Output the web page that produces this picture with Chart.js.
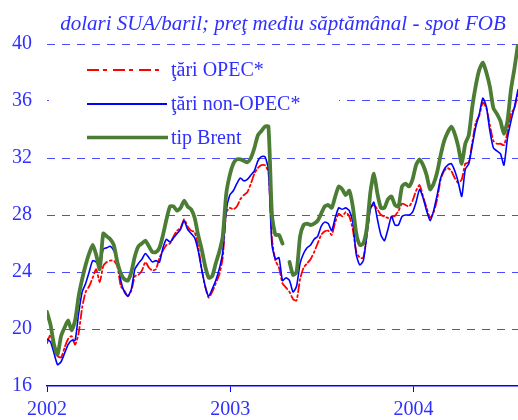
<!DOCTYPE html>
<html>
<head>
<meta charset="utf-8">
<script src="https://cdn.jsdelivr.net/npm/chart.js@4.4.1/dist/chart.umd.min.js"></script>
<style>
html,body{margin:0;padding:0;background:#fff;}
#wrap{width:518px;height:420px;position:relative;}
</style>
</head>
<body>
<div id="wrap"><canvas id="c" width="518" height="420"></canvas></div>
<script>
// Week index (0 = first week of Jan 2002), weekly observations
const weeks = Array.from({length: 135}, (_, i) => i);
const yearTickPos = [0, 52.14, 104.29];
const yearLabels = ['2002', '2003', '2004'];
const yTicks = [16, 20, 24, 28, 32, 36, 40];
const titleText = 'dolari SUA/baril; preţ mediu săptămânal - spot FOB';
const seriesNames = ['ţări OPEC*', 'ţări non-OPEC*', 'tip Brent'];

const opec = [
19.0,19.6,18.6,18.1,18.0,18.7,19.3,19.5,18.9,19.7,
21.5,22.6,23.0,23.6,24.2,23.3,24.4,24.7,24.8,24.8,
24.4,23.0,22.7,22.3,22.7,23.7,23.8,24.1,24.7,24.3,
24.1,24.2,25.0,25.5,25.9,26.0,26.5,26.9,27.1,27.7,
27.2,26.9,26.8,25.8,24.2,23.0,22.2,22.6,23.2,23.8,
25.0,28.2,28.5,28.4,28.6,29.1,29.4,29.6,30.2,30.9,
31.3,31.5,31.5,31.0,26.3,24.8,24.3,23.2,22.9,22.6,
22.1,22.0,23.5,24.3,24.6,24.9,25.4,26.0,26.6,26.85,
26.9,26.6,27.5,28.1,27.9,28.2,27.9,27.0,25.4,25.0,
25.0,26.6,28.5,28.7,28.4,28.0,27.9,27.8,27.85,27.95,
28.3,28.8,28.7,28.6,29.0,29.7,30.1,29.3,28.5,27.8,
28.2,29.1,30.5,31.1,31.3,31.1,30.6,30.25,30.5,31.6,
31.7,33.1,34.5,35.0,35.9,35.5,34.3,33.2,33.0,33.0,
32.9,33.8,35.1,35.5,36.6
];
const nonOpec = [
19.3,19.1,18.3,17.5,17.7,18.3,18.9,19.2,19.2,21.1,
22.6,23.2,24.0,24.8,24.7,24.4,25.6,25.7,25.8,25.5,
24.9,23.4,22.6,22.3,22.8,24.2,24.6,24.9,25.3,25.0,
24.7,24.8,24.7,25.7,26.3,26.1,26.4,26.7,27.0,27.6,
27.0,26.7,26.4,25.5,24.2,23.0,22.3,22.8,23.4,24.2,
25.4,28.3,29.4,29.7,30.2,30.6,30.4,30.5,30.8,31.1,
31.8,32.1,32.1,31.2,25.9,24.9,25.0,23.4,23.6,23.4,
22.6,23.0,24.6,25.3,25.7,25.9,26.3,26.5,27.2,27.5,
27.4,26.9,27.8,28.5,28.4,28.5,28.3,27.5,25.2,24.5,
24.8,26.6,28.4,28.9,27.7,26.6,26.2,27.0,27.9,27.3,
27.3,27.9,28.0,28.0,28.2,28.9,29.8,29.2,28.3,27.6,
28.3,29.4,30.6,31.2,31.5,31.6,31.1,30.3,29.3,31.2,
31.6,32.9,34.2,35.1,36.2,35.6,33.9,32.7,32.5,32.3,
31.5,33.4,34.6,35.6,36.8
];
const brent = [
21.2,20.3,18.9,18.2,19.5,20.1,20.6,19.9,20.6,22.3,
23.5,24.5,25.3,25.9,25.2,24.2,26.7,26.5,26.3,25.9,
24.7,23.9,23.5,23.4,24.0,25.1,25.8,26.0,26.2,25.8,
25.4,25.4,25.7,26.6,27.7,28.6,28.6,28.3,28.5,29.0,
28.6,28.4,27.8,26.6,25.6,24.4,23.6,23.7,24.6,25.4,
26.5,29.5,30.8,31.6,31.9,31.9,31.8,31.7,32.0,32.7,
33.6,33.9,34.2,34.2,28.0,26.6,26.6,26.0,null,24.7,
23.8,24.0,26.5,27.3,27.4,27.3,27.4,27.6,28.1,28.6,
28.7,28.5,29.3,30.0,29.8,29.4,29.7,28.6,26.7,25.9,
26.0,27.1,29.6,30.9,29.5,28.5,28.5,29.1,29.3,28.7,
28.6,30.0,30.2,30.0,30.5,31.5,31.9,31.5,30.8,29.8,
30.2,31.0,32.2,33.2,33.8,34.2,33.7,32.8,31.6,33.0,
33.6,35.6,37.1,38.2,38.7,38.0,37.0,35.5,35.1,34.6,
33.7,34.6,36.8,38.3,40.0
];

const BLUE_TXT = '#2f2fff';
const RED = '#ff0000';
const BLUE = '#0000ff';
const GREEN = '#4b7d34';
const SERIF = "'Liberation Serif','Times New Roman',serif";
const DASHDOT = [12, 4, 4, 6];

const legendBox = {
  id: 'legendBox',
  beforeDatasetsDraw(chart) {
    const ctx = chart.ctx;
    ctx.save();
    ctx.fillStyle = '#ffffff';
    ctx.fillRect(49, 49, 290, 103);
    const rows = [
      {y: 70, color: RED, w: 2, dash: DASHDOT, x2: 162},
      {y: 104, color: BLUE, w: 1.8, dash: [], x2: 167},
      {y: 137.5, color: GREEN, w: 3.5, dash: [], x2: 168}
    ];
    rows.forEach((r, i) => {
      ctx.beginPath();
      ctx.setLineDash(r.dash);
      ctx.strokeStyle = r.color;
      ctx.lineWidth = r.w;
      ctx.moveTo(87, r.y);
      ctx.lineTo(r.x2, r.y);
      ctx.stroke();
      ctx.setLineDash([]);
      ctx.fillStyle = BLUE_TXT;
      ctx.font = '20px ' + SERIF;
      ctx.textBaseline = 'middle';
      ctx.textAlign = 'left';
      ctx.fillText(seriesNames[i], 171, r.y + 1);
    });
    ctx.restore();
  },
  afterDraw(chart) {
    const ctx = chart.ctx;
    ctx.save();
    ctx.fillStyle = BLUE_TXT;
    ctx.font = 'italic 21px ' + SERIF;
    ctx.textAlign = 'center';
    ctx.textBaseline = 'middle';
    ctx.fillText(titleText, 283, 24);
    ctx.restore();
  }
};

new Chart(document.getElementById('c'), {
  type: 'line',
  data: {
    labels: weeks,
    datasets: [
      {label: seriesNames[0], data: opec, borderColor: RED, borderWidth: 1.8, borderDash: [8, 3, 2, 3], order: 2},
      {label: seriesNames[1], data: nonOpec, borderColor: BLUE, borderWidth: 1.6, order: 1},
      {label: seriesNames[2], data: brent, borderColor: GREEN, borderWidth: 3.8, order: 0, spanGaps: false}
    ]
  },
  options: {
    responsive: false,
    animation: false,
    devicePixelRatio: 1,
    layout: {padding: {top: 44, right: 0, bottom: 0, left: 0}},
    elements: {point: {radius: 0}, line: {tension: 0.2, fill: false, borderCapStyle: 'round', borderJoinStyle: 'round'}},
    plugins: {legend: {display: false}, title: {display: false}, tooltip: {enabled: false}},
    scales: {
      x: {
        type: 'linear',
        min: 0,
        max: 134,
        afterBuildTicks(scale) { scale.ticks = yearTickPos.map(v => ({value: v})); },
        afterFit(scale) { scale.height = 34; },
        ticks: {
          callback: (v, i) => yearLabels[i],
          color: BLUE_TXT,
          font: {family: SERIF, size: 20},
          padding: 6,
          maxRotation: 0,
          autoSkip: false
        },
        grid: {drawOnChartArea: false, drawTicks: true, tickLength: 6, color: BLUE, lineWidth: 1},
        border: {display: true, color: BLUE, width: 1.5}
      },
      y: {
        min: 16,
        max: 40,
        afterBuildTicks(scale) { scale.ticks = yTicks.map(v => ({value: v})); },
        afterFit(scale) { scale.width = 47; },
        ticks: {
          color: BLUE_TXT,
          font: {family: SERIF, size: 20},
          padding: 15
        },
        grid: {drawTicks: false, color: (c) => c.tick.value === 16 ? 'rgba(0,0,0,0)' : '#4a4aff', lineWidth: 1},
        border: {display: false, dash: [8, 7]}
      }
    }
  },
  plugins: [legendBox]
});
</script>
</body>
</html>
